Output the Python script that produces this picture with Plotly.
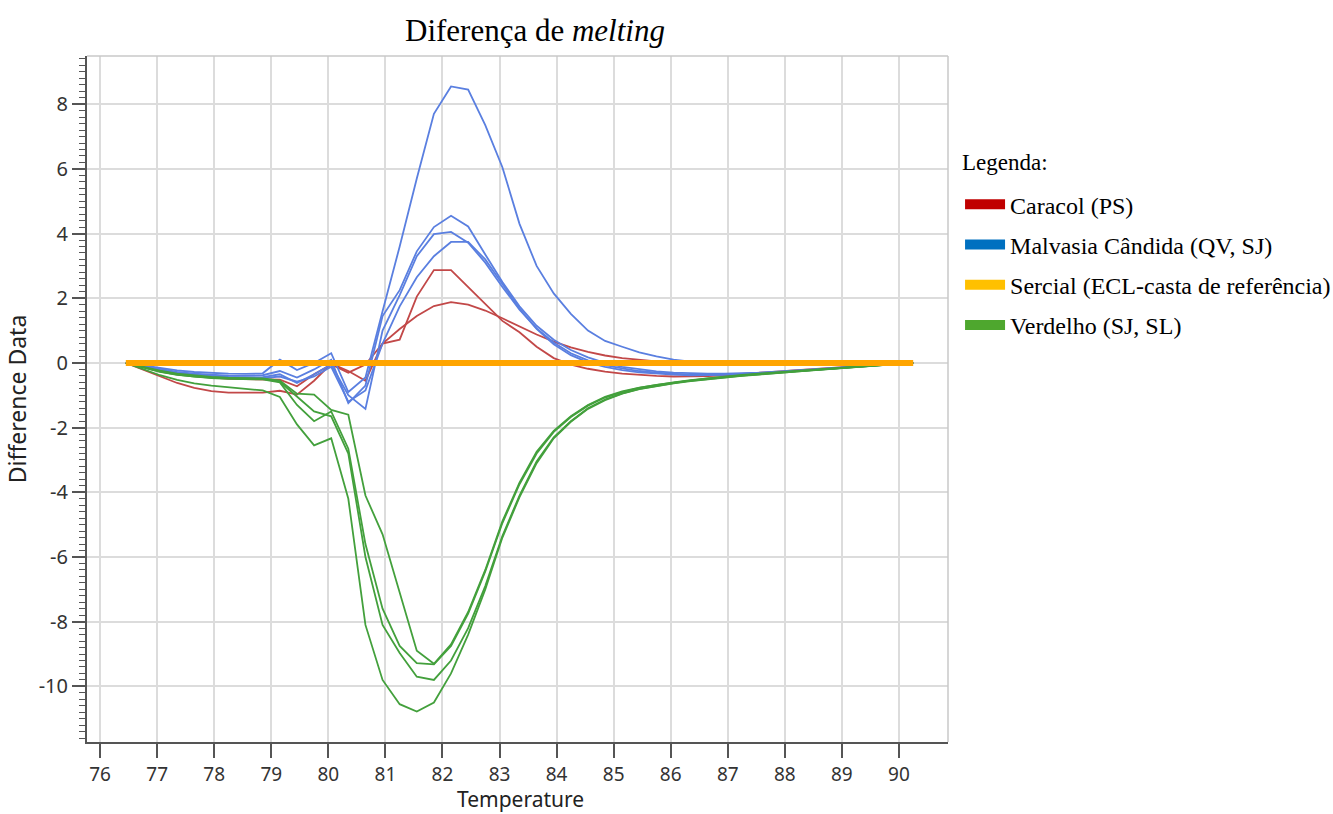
import plotly.graph_objects as go

# ---------------- data ----------------
temperature = [76.45, 76.75, 77.05, 77.35, 77.65, 77.95, 78.25, 78.55, 78.85, 79.15,
               79.45, 79.75, 80.05, 80.35, 80.65, 80.95, 81.25, 81.55, 81.85, 82.15,
               82.45, 82.75, 83.05, 83.35, 83.65, 83.95, 84.25, 84.55, 84.85, 85.15,
               85.45, 85.75, 86.05, 86.35, 86.65, 86.95, 87.25, 87.55, 87.85, 88.15,
               88.45, 88.75, 89.05, 89.35, 89.65, 89.95, 90.25]

caracol_1 = [0, -0.2, -0.42, -0.62, -0.77, -0.87, -0.92, -0.93, -0.92, -0.86,
             -0.98, -0.55, -0.02, -0.25, -0.55, 0.6, 0.72, 2.05, 2.87, 2.87,
             2.35, 1.82, 1.3, 0.95, 0.5, 0.15, -0.05, -0.18, -0.27, -0.33,
             -0.37, -0.4, -0.42, -0.42, -0.41, -0.38, -0.35, -0.31, -0.27, -0.23,
             -0.19, -0.15, -0.12, -0.09, -0.06, -0.03, 0]
caracol_2 = [0, -0.12, -0.24, -0.34, -0.41, -0.46, -0.49, -0.5, -0.5, -0.52,
             -0.72, -0.35, -0.05, -0.3, -0.05, 0.6, 1.05, 1.45, 1.76, 1.88,
             1.8, 1.62, 1.38, 1.12, 0.88, 0.66, 0.48, 0.34, 0.23, 0.15,
             0.09, 0.05, 0.02, 0.0, -0.02, -0.04, -0.05, -0.06, -0.06, -0.06,
             -0.06, -0.05, -0.04, -0.03, -0.02, -0.01, 0]

malvasia_1 = [0, -0.08, -0.16, -0.23, -0.28, -0.31, -0.33, -0.34, -0.32, 0.1,
              -0.22, 0.0, 0.3, -0.9, -0.45, 1.6, 3.6, 5.7, 7.7, 8.55,
              8.45, 7.35, 6.05, 4.3, 3.0, 2.15, 1.52, 1.0, 0.68, 0.5,
              0.33, 0.2, 0.1, 0.04, 0.01, 0, 0, 0, 0, 0,
              0, 0, 0, 0, 0, 0, 0]
malvasia_2 = [0, -0.1, -0.2, -0.28, -0.33, -0.37, -0.39, -0.4, -0.38, -0.25,
              -0.45, -0.2, 0.1, -1.24, -0.7, 1.45, 2.25, 3.45, 4.2, 4.55,
              4.22, 3.35, 2.5, 1.75, 1.15, 0.72, 0.4, 0.17, 0.0, -0.12,
              -0.2, -0.26, -0.3, -0.32, -0.33, -0.33, -0.32, -0.3, -0.27, -0.24,
              -0.21, -0.17, -0.13, -0.1, -0.06, -0.03, 0]
malvasia_3 = [0, -0.1, -0.21, -0.3, -0.36, -0.4, -0.43, -0.45, -0.44, -0.35,
              -0.62, -0.35, -0.05, -1.0, -1.42, 1.0, 2.1, 3.3, 3.98, 4.05,
              3.72, 3.1, 2.35, 1.65, 1.07, 0.63, 0.3, 0.08, -0.07, -0.17,
              -0.25, -0.3, -0.34, -0.36, -0.36, -0.35, -0.34, -0.32, -0.29, -0.25,
              -0.22, -0.18, -0.14, -0.1, -0.07, -0.03, 0]
malvasia_4 = [0, -0.11, -0.22, -0.31, -0.37, -0.42, -0.45, -0.47, -0.47, -0.42,
              -0.58, -0.42, -0.12, -1.2, -0.85, 0.6, 1.75, 2.65, 3.3, 3.74,
              3.74, 3.2, 2.42, 1.68, 1.05, 0.58, 0.24, 0.02, -0.12, -0.22,
              -0.29, -0.33, -0.36, -0.38, -0.38, -0.37, -0.35, -0.33, -0.3, -0.26,
              -0.22, -0.18, -0.14, -0.1, -0.07, -0.03, 0]

verdelho_1 = [0, -0.12, -0.24, -0.33, -0.39, -0.43, -0.46, -0.47, -0.48, -0.55,
              -0.95, -0.98, -1.45, -1.6, -4.1, -5.3, -7.1, -8.9, -9.3, -8.7,
              -7.7, -6.4, -4.9, -3.7, -2.75, -2.1, -1.65, -1.3, -1.05, -0.88,
              -0.76, -0.67, -0.6, -0.53, -0.47, -0.42, -0.37, -0.33, -0.29, -0.25,
              -0.21, -0.17, -0.13, -0.1, -0.06, -0.03, 0]
verdelho_2 = [0, -0.15, -0.28, -0.37, -0.43, -0.47, -0.49, -0.5, -0.51, -0.6,
              -1.3, -1.8, -1.5, -2.65, -5.6, -7.6, -8.75, -9.28, -9.32, -8.75,
              -7.75, -6.45, -4.95, -3.75, -2.8, -2.13, -1.67, -1.32, -1.07, -0.9,
              -0.77, -0.68, -0.61, -0.54, -0.48, -0.43, -0.38, -0.34, -0.3, -0.26,
              -0.22, -0.18, -0.14, -0.1, -0.07, -0.03, 0]
verdelho_3 = [0, -0.13, -0.27, -0.36, -0.42, -0.45, -0.47, -0.48, -0.49, -0.58,
              -1.05, -1.5, -1.65, -2.8, -6.0, -8.1, -8.97, -9.7, -9.8, -9.2,
              -8.2, -6.9, -5.35, -4.1, -3.05, -2.3, -1.8, -1.4, -1.13, -0.94,
              -0.8, -0.7, -0.62, -0.55, -0.49, -0.44, -0.39, -0.35, -0.31, -0.27,
              -0.23, -0.19, -0.15, -0.11, -0.07, -0.03, 0]
verdelho_4 = [0, -0.2, -0.38, -0.52, -0.63, -0.7, -0.76, -0.8, -0.85, -1.05,
              -1.9, -2.55, -2.33, -4.2, -8.1, -9.8, -10.55, -10.78, -10.5, -9.6,
              -8.4, -7.0, -5.4, -4.15, -3.1, -2.33, -1.82, -1.42, -1.15, -0.95,
              -0.81, -0.71, -0.63, -0.56, -0.5, -0.45, -0.4, -0.36, -0.31, -0.27,
              -0.23, -0.19, -0.15, -0.11, -0.07, -0.03, 0]

sercial = [0] * len(temperature)

legend_title = "Legenda:"
legend_names = ["Caracol (PS)", "Malvasia Cândida (QV, SJ)",
                "Sercial (ECL-casta de referência)", "Verdelho (SJ, SL)"]

x_title = "Temperature"
y_title = "Difference Data"
x_tick_vals = [76, 77, 78, 79, 80, 81, 82, 83, 84, 85, 86, 87, 88, 89, 90]
x_tick_labels = ["76", "77", "78", "79", "80", "81", "82", "83", "84", "85",
                 "86", "87", "88", "89", "90"]
y_tick_vals = [8, 6, 4, 2, 0, -2, -4, -6, -8, -10]
y_tick_labels = ["8", "6", "4", "2", "0", "-2", "-4", "-6", "-8", "-10"]

# ---------------- style ----------------
RED = "#c24848"
BLUE = "#5a7fe0"
GREEN = "#43a03c"
ORANGE = "#ffa500"
LEG_COLORS = ["#c00000", "#0070c0", "#ffc000", "#4ea72e"]

SANS = "Noto Sans, Open Sans, DejaVu Sans, sans-serif"
SERIF = "Liberation Serif, Times New Roman, serif"

fig = go.Figure()

def add_curves(series_list, color, width=1.8):
    for ys in series_list:
        fig.add_trace(go.Scatter(x=temperature, y=ys, mode="lines",
                                 line=dict(color=color, width=width),
                                 showlegend=False, hoverinfo="skip"))

add_curves([caracol_1, caracol_2], RED)
add_curves([malvasia_1, malvasia_2, malvasia_3, malvasia_4], BLUE)
add_curves([verdelho_1, verdelho_2, verdelho_3, verdelho_4], GREEN)
add_curves([sercial], ORANGE, width=6)

# legend entries
for name, col in zip(legend_names, LEG_COLORS):
    fig.add_trace(go.Scatter(x=[None], y=[None], mode="lines", name=name,
                             legendgroup=name,
                             line=dict(color=col, width=11)))

axis_common = dict(
    showline=True, linecolor="#555555", linewidth=2,
    ticks="outside", tickcolor="#555555", tickwidth=2,
    showgrid=True, gridcolor="#dcdcdc", gridwidth=1.5,
    zeroline=False,
)

fig.update_layout(
    width=1333, height=814,
    margin=dict(l=87, r=385, t=56, b=72, autoexpand=False),
    paper_bgcolor="white", plot_bgcolor="white",
    title=dict(text="Diferença de <i>melting</i>",
               font=dict(family=SERIF, size=31, color="black"),
               x=535 / 1333, xref="container", xanchor="center",
               y=1 - 30 / 814, yref="container", yanchor="middle"),
    xaxis=dict(range=[75.77, 90.86], tickmode="array",
               tickvals=x_tick_vals, ticktext=x_tick_labels, ticklen=14,
               ticklabelstandoff=0,
               tickfont=dict(family=SANS, size=19, color="#333333"),
               **axis_common),
    yaxis=dict(range=[-11.72, 9.49], tickmode="array",
               tickvals=y_tick_vals, ticktext=y_tick_labels, ticklen=13,
               tickfont=dict(family=SANS, size=20, color="#333333"),
               minor=dict(dtick=0.2, tick0=0, ticks="outside", ticklen=6,
                          tickcolor="#555555", tickwidth=1, showgrid=False),
               title=dict(text=y_title, standoff=6,
                          font=dict(family=SANS, size=23, color="#222222")),
               **axis_common),
    legend=dict(x=1.014, xanchor="left", y=0.816, yanchor="top",
                font=dict(family=SERIF, size=24, color="black"),
                itemwidth=40, tracegroupgap=6, traceorder="grouped",
                bgcolor="rgba(0,0,0,0)"),
    showlegend=True,
    annotations=[
        dict(text=legend_title, xref="paper", yref="paper",
             x=1.0145, y=(742 - 162) / 686, xanchor="left", yanchor="middle",
             showarrow=False, font=dict(family=SERIF, size=23, color="black")),
        dict(text=x_title, xref="paper", yref="paper",
             x=(520 - 87) / 861, y=(742 - 814) / 686, xanchor="center",
             yanchor="bottom", showarrow=False, borderpad=0,
             font=dict(family=SANS, size=21, color="#222222")),
    ],
    shapes=[
        dict(type="line", xref="paper", yref="paper", x0=0, x1=1, y0=1, y1=1,
             line=dict(color="#c8c8c8", width=1.5)),
        dict(type="line", xref="paper", yref="paper", x0=1, x1=1, y0=0, y1=1,
             line=dict(color="#c8c8c8", width=1.5)),
    ],
)

fig.write_html("out.html")
